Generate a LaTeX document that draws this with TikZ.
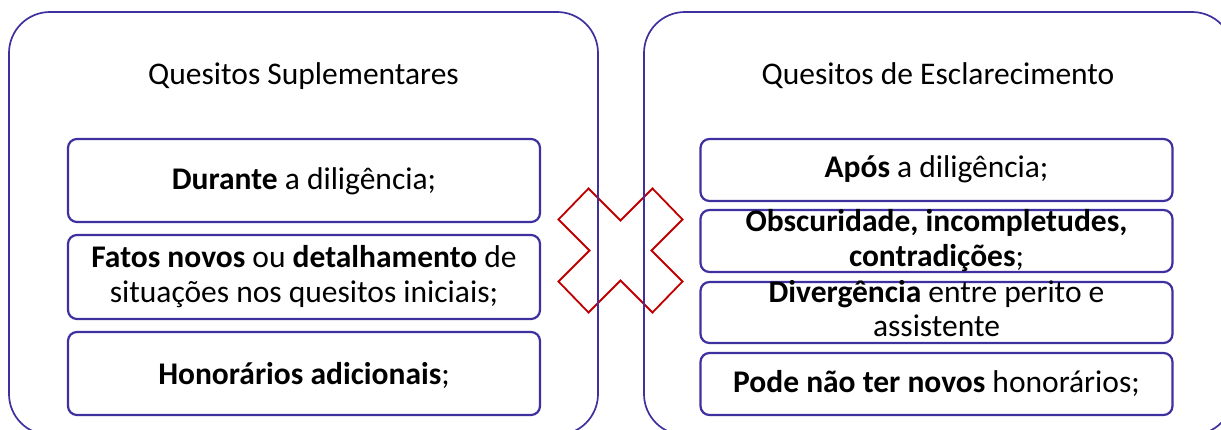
\documentclass[tikz,border=0pt]{standalone}
\usepackage{fontspec}
\setmainfont{Carlito}
\definecolor{frame}{RGB}{62,48,158}
\definecolor{xred}{RGB}{192,0,0}
\begin{document}
\begin{tikzpicture}[x=1pt,y=-1pt,
  outerbox/.style={draw=frame, line width=1.7pt, rounded corners=41pt, minimum width=589pt, minimum height=423pt, inner sep=0pt},
  itembox/.style={draw=frame, line width=2.2pt, rounded corners=9pt, minimum width=472pt, inner sep=0pt},
  txt/.style={anchor=base, inner sep=0pt, font=\fontsize{31.5}{35}\selectfont, text=black},
  cross/.style={draw=xred, line width=1.8pt, line join=miter}
]
\useasboundingbox (0,0) rectangle (1221,430);
\clip (0,0) rectangle (1221,430);
% red cross
\coordinate (xc) at (620.5,250.5);
\draw[cross, shift={(xc)}] (-32,-62) -- (0,-30) -- (32,-62) -- (62,-31) -- (31,0) -- (62,31)
  -- (32,62) -- (0,30) -- (-32,62) -- (-62,31) -- (-31,0) -- (-62,-31) -- cycle;
% outer boxes
\node[outerbox] (L) at (303.5,223.5) {};
\node[outerbox] (R) at (938.5,223.5) {};
\node[txt] (Lt) at (303.5,85) {Quesitos Suplementares};
\node[txt] (Rt) at (938,85) {Quesitos de Esclarecimento};
% left items
\node[itembox, minimum height=83pt] (L1) at (304,180.5) {};
\node[itembox, minimum height=84pt] (L2) at (304,277) {};
\node[itembox, minimum height=83pt] (L3) at (304,373.5) {};
\node[txt] (L1t) at (304,190) {\textbf{Durante} a diligência;};
\node[txt] (L2a) at (304,268) {\textbf{Fatos novos} ou \textbf{detalhamento} de};
\node[txt] (L2b) at (304,303) {situações nos quesitos iniciais;};
\node[txt] (L3t) at (304,384) {\textbf{Honorários adicionais};};
% right items
\node[itembox, minimum height=62pt] (R1) at (936.5,170) {};
\node[itembox, minimum height=62pt] (R2) at (936.5,241) {};
\node[itembox, minimum height=61pt] (R3) at (936.5,312.5) {};
\node[itembox, minimum height=62pt] (R4) at (936.5,384) {};
\node[txt] (R1t) at (936.5,178) {\textbf{Após} a diligência;};
\node[txt] (R2a) at (936.5,232) {\textbf{Obscuridade, incompletudes,}};
\node[txt] (R2b) at (936.5,267) {\textbf{contradições};};
\node[txt] (R3a) at (936.5,303) {\textbf{Divergência} entre perito e};
\node[txt] (R3b) at (936.5,337) {assistente};
\node[txt] (R4t) at (936.5,392) {\textbf{Pode não ter novos} honorários;};
\end{tikzpicture}
\end{document}
